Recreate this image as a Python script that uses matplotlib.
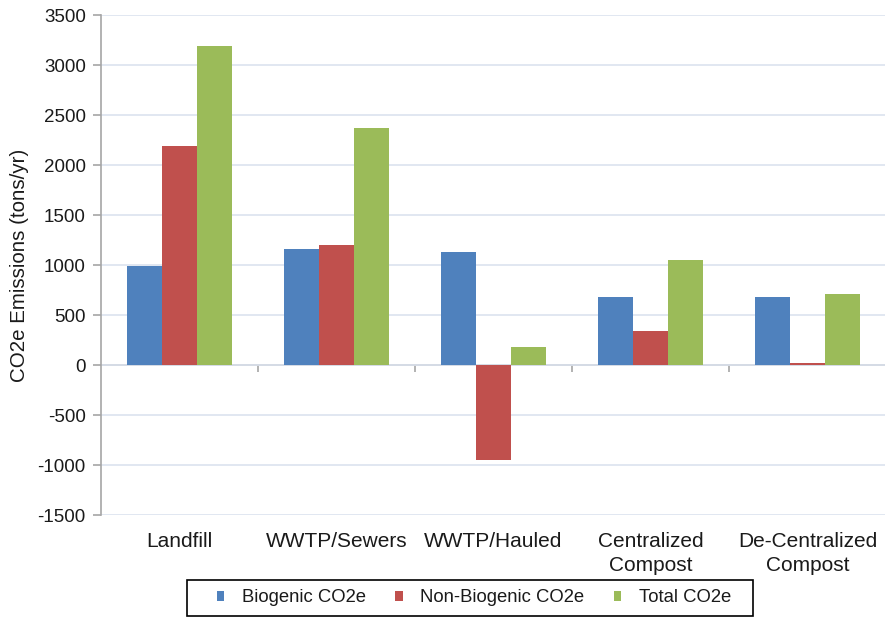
import numpy as np
import matplotlib
matplotlib.use('Agg')
import matplotlib.pyplot as plt
from matplotlib.patches import Patch, Rectangle

plt.rcParams['font.family'] = ['Liberation Sans', 'DejaVu Sans']
plt.rcParams['axes.unicode_minus'] = False

categories = ['Landfill', 'WWTP/Sewers', 'WWTP/Hauled', 'Centralized\nCompost', 'De-Centralized\nCompost']
biogenic = [990, 1160, 1130, 680, 680]
non_biogenic = [2190, 1200, -950, 340, 20]
total = [3190, 2370, 180, 1050, 710]
series_names = ['Biogenic CO2e', 'Non-Biogenic CO2e', 'Total CO2e']
colors = ['#4F81BD', '#C0504D', '#9BBB59']

fig = plt.figure(figsize=(8.85, 6.17), dpi=100)
ax = fig.add_axes([101 / 885, 102 / 617, 785 / 885, 500 / 617])

x = np.arange(len(categories))
w = 0.223
for i, (vals, c) in enumerate(zip([biogenic, non_biogenic, total], colors)):
    ax.bar(x + (i - 1) * w, vals, width=w, color=c, zorder=3)

ax.set_xlim(-0.5, len(categories) - 0.5)
ax.set_ylim(-1500, 3500)
ax.set_yticks(np.arange(-1500, 3501, 500))
ax.yaxis.grid(True, color='#DCE3EF', linewidth=1.2, zorder=0)

for s in ['top', 'right', 'bottom']:
    ax.spines[s].set_visible(False)
ax.spines['left'].set_color('#A6A6A6')
ax.spines['left'].set_linewidth(1.2)
ax.tick_params(axis='y', colors='#A6A6A6', labelcolor='#1a1a1a', length=6, width=1.2,
               labelsize=13.5, pad=5)

# category names under the plot area
ax.set_xticks(x)
ax.set_xticklabels(categories, fontsize=15, linespacing=1.35, color='#1a1a1a')
ax.tick_params(axis='x', length=0, pad=12)

# zero line with separators between categories
zero = ax.secondary_xaxis(0.3)
zero.set_xticks(np.arange(0.5, len(categories) - 0.5, 1.0))
zero.set_xticklabels([])
zero.spines['bottom'].set_color('#A6A6A6')
zero.spines['bottom'].set_linewidth(1.2)
zero.tick_params(axis='x', colors='#A6A6A6', length=5, width=1.2)

ax.set_ylabel('CO2e Emissions (tons/yr)', fontsize=14.8, labelpad=6, color='#1a1a1a')

# legend entries, with a plain box drawn around them
handles = [Patch(facecolor=c, label=n) for c, n in zip(colors, series_names)]
leg = fig.legend(handles=handles, loc='center', bbox_to_anchor=(474 / 885, 19 / 617),
                 ncol=3, fontsize=13.3, frameon=False,
                 handlelength=0.4, handleheight=0.4, columnspacing=1.6,
                 handletextpad=0.95, borderaxespad=0)
for t in leg.get_texts():
    t.set_color('#1a1a1a')
fig.patches.append(Rectangle((187 / 885, 1 / 617), 566 / 885, 36 / 617,
                             transform=fig.transFigure, fill=False,
                             edgecolor='black', linewidth=1.2))

fig.savefig('out.png', dpi=100)
